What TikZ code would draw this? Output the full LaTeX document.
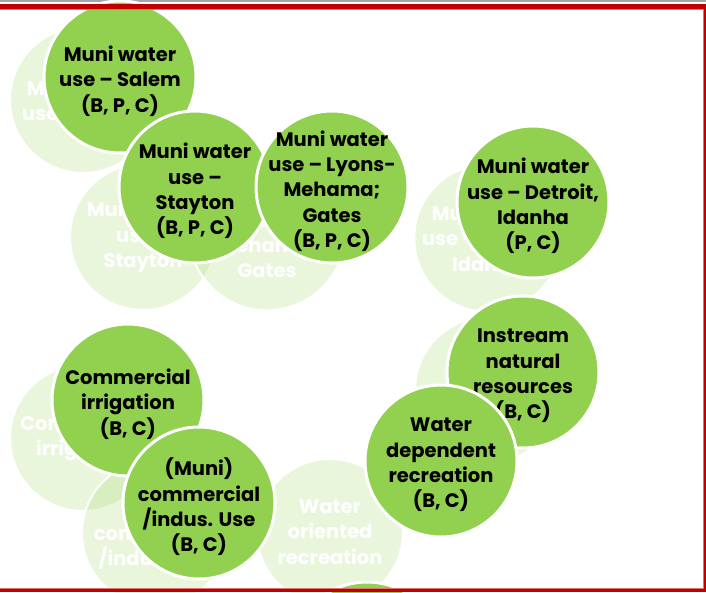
\documentclass[tikz,border=0pt]{standalone}
\usepackage{fontspec}
\setmainfont{Poppins}
\usepackage{tikz}

\definecolor{leafgreen}{HTML}{92D050}
\definecolor{framered}{HTML}{C00000}
\definecolor{framepink}{HTML}{E07070}
\definecolor{framegray}{HTML}{A6A6A6}
\newcommand{\circlefont}{\bfseries\fontsize{19.5}{25.3}\selectfont}

\begin{document}
\begin{tikzpicture}[x=1pt, y=-1pt]

	\tikzstyle{use_node}=[circle, fill=leafgreen, draw=white, line width=3pt, minimum size=152pt, inner sep=0pt]
	\tikzstyle{use_text}=[align=center, font=\circlefont, yshift=-4pt]
	\tikzstyle{faded_node}=[circle, fill=leafgreen, fill opacity=0.2, text opacity=1, text=white, draw=white, line width=2pt, minimum size=146pt, inner sep=0pt, align=center, font=\circlefont]

	\useasboundingbox (0,0) rectangle (706,592);
	\clip (0,0) rectangle (706,592);
	\draw[framegray, line width=2pt] (0,1) -- (706,1);

	% Faded nodes
	\node[faded_node] at (83, 100) (salem_back) {Muni water\\use -- Salem};
	\node[faded_node] at (143, 237) (stayton_back) {Muni water\\use --\\Stayton};
	\node[faded_node] at (267, 232) (lyons_back) {Muni water\\use -- Lyons-\\Mehama;\\Gates};
	\node[faded_node] at (488, 238) (detroit_back) {Muni water\\use -- Detroit,\\Idanha};
	\node[faded_node] at (488, 390) (instream_back) {};
	\node[faded_node] at (83, 438) (irrigation_back) {Commercial\\irrigation};
	\node[faded_node] at (155, 533) (indus_back) {(Muni)\\commercial\\/indus. Use};
	\node[faded_node] at (330, 532) (oriented_back) {Water\\oriented\\recreation};

	% Main nodes
	\node[use_node] at (120, 77) (salem) {};
	\node[use_text] at (salem) (salem_text) {Muni water\\use -- Salem\\(B, P, C)};
	\node[use_node] at (195, 187) (stayton) {};
	\node[use_text] at (stayton) (stayton_text) {Muni water\\use --\\Stayton\\(B, P, C)};
	\node[use_node] at (332, 187) (lyons) {};
	\node[use_text] at (lyons) (lyons_text) {Muni water\\use -- Lyons-\\Mehama;\\Gates\\(B, P, C)};
	\node[use_node] at (533, 202) (detroit) {};
	\node[use_text] at (detroit) (detroit_text) {Muni water\\use -- Detroit,\\Idanha\\(P, C)};
	\node[use_node] at (523, 372) (instream) {};
	\node[use_text] at (instream) (instream_text) {Instream\\natural\\resources\\(B, C)};
	\node[use_node] at (441, 461) (dependent) {};
	\node[use_text] at (dependent) (dependent_text) {Water\\dependent\\recreation\\(B, C)};
	\node[use_node] at (128, 400) (irrigation) {};
	\node[use_text] at (irrigation) (irrigation_text) {Commercial\\irrigation\\(B, C)};
	\node[use_node] at (199, 503) (indus) {};
	\node[use_text] at (indus) (indus_text) {(Muni)\\commercial\\/indus. Use\\(B, C)};
	\node[use_node] at (367, 658) (next) {};

	% Frame
	\draw[framered, line width=5pt] (0,6.5) -- (706,6.5);
	\draw[framepink, line width=1pt] (0,9.5) -- (703,9.5);
	\draw[framered, line width=2.5pt] (705,4) -- (705,592);
	\draw[framepink, line width=1pt] (703,9) -- (703,588.5);
	\draw[framered, line width=3pt] (0,590.5) -- (706,590.5);
	\draw[framepink, line width=1pt] (0,588.5) -- (703,588.5);
\end{tikzpicture}
\end{document}
